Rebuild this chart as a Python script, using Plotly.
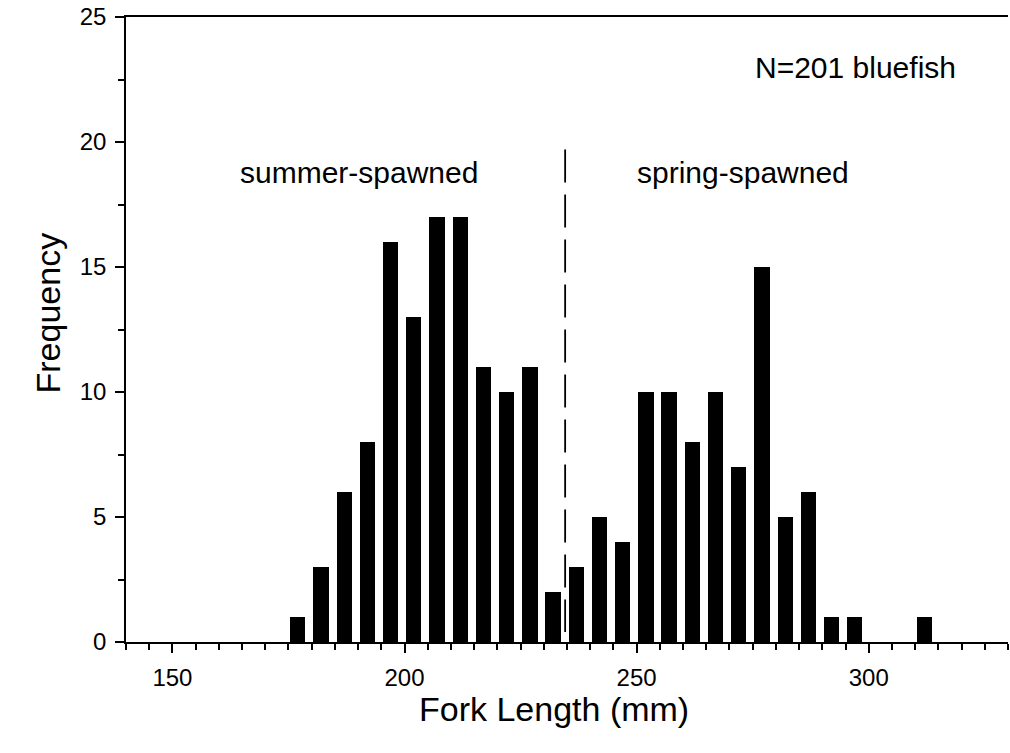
import plotly.graph_objects as go

# Fork-length bins (midpoints, mm) and fish counts per 5 mm bin
fork_length_mm = [177, 182, 187, 192, 197, 202, 207, 212, 217, 222, 227, 232,
                  237, 242, 247, 252, 257, 262, 267, 272, 277, 282, 287, 292,
                  297, 302, 307, 312]
frequency = [1, 3, 6, 8, 16, 13, 17, 17, 11, 10, 11, 2,
             3, 5, 4, 10, 10, 8, 10, 7, 15, 5, 6, 1,
             1, 0, 0, 1]

x_major_ticks = [150, 200, 250, 300]
y_major_ticks = [0, 5, 10, 15, 20, 25]

cohort_split_mm = 234.6
FONT = "Liberation Sans, Arial, Helvetica, sans-serif"

fig = go.Figure()
fig.add_trace(go.Bar(
    x=fork_length_mm,
    y=frequency,
    width=3.3,
    marker=dict(color="black", line=dict(width=0)),
    showlegend=False,
))

# Dashed divider between summer- and spring-spawned cohorts
fig.add_shape(type="line", xref="x", yref="y",
              x0=cohort_split_mm, x1=cohort_split_mm, y0=19.7, y1=0.4,
              line=dict(color="black", width=1.8, dash="33px,12px"))

fig.add_annotation(x=190.2, y=18.8, xref="x", yref="y", text="summer-spawned",
                   showarrow=False, font=dict(size=30, color="black", family=FONT))
fig.add_annotation(x=272.9, y=18.8, xref="x", yref="y", text="spring-spawned",
                   showarrow=False, font=dict(size=30, color="black", family=FONT))
fig.add_annotation(x=297.2, y=23.0, xref="x", yref="y", text="N=201 bluefish",
                   showarrow=False, font=dict(size=30, color="black", family=FONT))

# Axis titles
fig.add_annotation(x=0.485, y=-0.141, xref="paper", yref="paper",
                   text="Fork Length (mm)", showarrow=False,
                   font=dict(size=34, color="black", family=FONT))
fig.add_annotation(x=-0.112, y=0.526, xref="paper", yref="paper",
                   text="Frequency", textangle=-90, showarrow=False,
                   font=dict(size=34, color="black", family=FONT))

fig.update_layout(
    width=1010, height=753,
    margin=dict(l=126, r=2, t=17, b=111),
    plot_bgcolor="white", paper_bgcolor="white",
    font=dict(family=FONT, color="black"),
    bargap=0,
)
fig.update_xaxes(
    range=[140, 330], showgrid=False, zeroline=False,
    showline=True, linecolor="black", linewidth=1.5, mirror=True,
    ticks="outside", tickvals=x_major_ticks, ticklen=9, tickwidth=1.5,
    tickcolor="black", tickfont=dict(size=24, color="black", family=FONT),
    ticklabelstandoff=4,
    minor=dict(ticks="outside", dtick=5, tick0=140, ticklen=6,
               tickwidth=1.5, tickcolor="black", showgrid=False),
)
fig.update_yaxes(
    range=[0, 25], showgrid=False, zeroline=False,
    showline=True, linecolor="black", linewidth=1.5,
    ticks="outside", tickvals=y_major_ticks, ticklen=9, tickwidth=1.5,
    tickcolor="black", tickfont=dict(size=24, color="black", family=FONT),
    ticklabelstandoff=4,
    minor=dict(ticks="outside", dtick=2.5, tick0=0, ticklen=6,
               tickwidth=1.5, tickcolor="black", showgrid=False),
)

fig.write_html("out.html")
